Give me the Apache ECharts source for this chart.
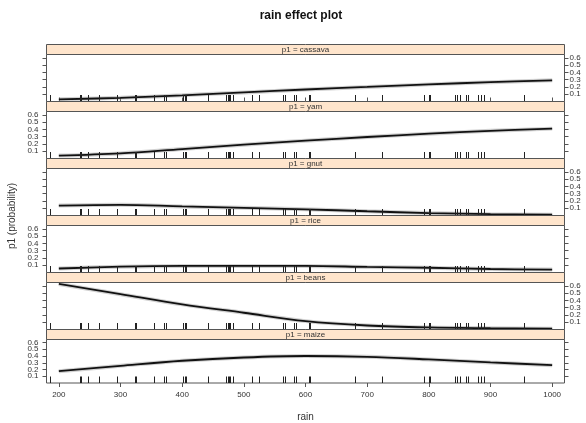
<!DOCTYPE html>
<html>
<head>
<meta charset="utf-8">
<script src="https://cdn.jsdelivr.net/npm/echarts@6/dist/echarts.min.js"></script>
<style>html,body{margin:0;padding:0;background:#fff}#c{width:586px;height:423px}</style>
</head>
<body>
<div id="c"></div>
<script>
const panels = ['cassava', 'yam', 'gnut', 'rice', 'beans', 'maize'];
const rain = [200, 300, 400, 500, 600, 700, 800, 900, 1000];
const cassava = [0.03, 0.05, 0.085, 0.125, 0.165, 0.2, 0.235, 0.265, 0.29];
const yam = [0.04, 0.07, 0.13, 0.19, 0.245, 0.295, 0.34, 0.38, 0.41];
const gnut = [0.136, 0.147, 0.124, 0.105, 0.085, 0.058, 0.033, 0.018, 0.01];
const rice = [0.055, 0.08, 0.09, 0.09, 0.09, 0.077, 0.065, 0.048, 0.04];
const beans = [0.625, 0.485, 0.345, 0.23, 0.115, 0.055, 0.028, 0.018, 0.012];
const maize = [0.175, 0.255, 0.33, 0.378, 0.4, 0.388, 0.35, 0.305, 0.265];
const rugRain = [186, 234, 236, 248, 265, 295, 323, 325, 355, 371, 374, 402, 404, 407, 442,
  471, 474, 476, 478, 482, 513, 525, 564, 566, 581, 584, 606, 608, 680, 724, 792, 800, 802,
  842, 845, 850, 861, 863, 879, 884, 889, 954];
const xTicks = [200, 300, 400, 500, 600, 700, 800, 900, 1000];
const yTicks = [0.1, 0.2, 0.3, 0.4, 0.5, 0.6];
const yLabelsOdd = [0.1, 0.3, 0.5];
const yLabelsEven = [0.2, 0.4, 0.6];

const seriesVals = [cassava, yam, gnut, rice, beans, maize];
const LEFT = 46.5, WIDTH = 518, TOP0 = 44.5, PERIOD = 57, STRIP = 10, PLOT = 47;
const frameColor = '#555';
const textColor = '#333';

const grids = [], xAxes = [], yAxes = [], series = [], graphics = [];
const hiddenAxis = {axisLine: {show: false}, splitLine: {show: false}};
panels.forEach((name, i) => {
  const stripTop = TOP0 + PERIOD * i;
  grids.push({left: LEFT, width: WIDTH, top: stripTop + STRIP, height: PLOT,
    show: true, borderColor: frameColor, borderWidth: 1, backgroundColor: '#fff'});
  const last = i === panels.length - 1;
  xAxes.push(Object.assign({type: 'value', gridIndex: i, min: 180, max: 1020, position: 'bottom',
    axisTick: {show: last, length: 4, customValues: xTicks, lineStyle: {color: frameColor}},
    axisLabel: {show: last, customValues: xTicks, fontSize: 8, color: textColor, margin: 8,
      hideOverlap: false, formatter: v => String(v), fontFamily: 'Liberation Sans'},
    name: last ? 'rain' : '', nameLocation: 'middle', nameGap: 29,
    nameTextStyle: {fontSize: 10, color: textColor, fontFamily: 'Liberation Sans'}}, hiddenAxis));
  const labSide = i % 2 === 1 ? 'left' : 'right';
  const baseIdx = yAxes.length;
  ['left', 'right'].forEach(side => {
    yAxes.push(Object.assign({type: 'value', gridIndex: i, min: 0, max: 0.645, position: side,
      axisTick: {show: true, length: 4, customValues: yTicks, lineStyle: {color: frameColor}},
      axisLabel: {show: false}}, hiddenAxis));
  });
  [yLabelsOdd, yLabelsEven].forEach(vals => {
    yAxes.push(Object.assign({type: 'value', gridIndex: i, min: 0, max: 0.645, position: labSide,
      axisTick: {show: false},
      axisLabel: {show: true, customValues: vals, fontSize: 8, color: textColor,
        margin: labSide === 'left' ? 8 : 5, hideOverlap: false,
        formatter: v => String(v), fontFamily: 'Liberation Sans'}}, hiddenAxis));
  });
  const data = rain.map((x, j) => [x, seriesVals[i][j]]);
  series.push({type: 'line', xAxisIndex: i, yAxisIndex: baseIdx, data: data, showSymbol: false,
    smooth: 0.35, silent: true,
    lineStyle: {color: '#9a9a9a', width: 4, opacity: 0.45}, z: 2});
  series.push({type: 'line', xAxisIndex: i, yAxisIndex: baseIdx, data: data, showSymbol: false,
    smooth: 0.35, silent: true,
    lineStyle: {color: '#111', width: 1.8}, z: 3});
  series.push({type: 'custom', xAxisIndex: i, yAxisIndex: baseIdx, silent: true, z: 4,
    data: rugRain.map(v => [v, 0]),
    renderItem: function (params, api) {
      const p = api.coord([api.value(0), 0]);
      const x = Math.round(p[0]) + 0.5;
      return {type: 'line', shape: {x1: x, y1: p[1], x2: x, y2: p[1] - 6.5},
        style: {stroke: '#222', lineWidth: 1}};
    }});
  graphics.push({type: 'rect', shape: {x: LEFT, y: stripTop, width: WIDTH, height: STRIP},
    style: {fill: '#ffe5cc', stroke: frameColor, lineWidth: 1}, z: 10});
  graphics.push({type: 'text', x: LEFT + WIDTH / 2, y: stripTop + STRIP / 2 + 0.5, z: 11,
    style: {text: 'p1 = ' + name, fontSize: 8, fill: textColor, align: 'center',
      verticalAlign: 'middle', fontFamily: 'Liberation Sans'}});
});
xAxes.push(Object.assign({type: 'value', gridIndex: 0, min: 180, max: 1020, position: 'top',
  axisTick: {show: true, length: 4, customValues: xTicks, lineStyle: {color: frameColor}},
  axisLabel: {show: false, customValues: xTicks}, offset: STRIP}, hiddenAxis));

graphics.push({type: 'text', x: 301, y: 16, style: {text: 'rain effect plot', fontSize: 12,
  fontWeight: 'bold', fill: '#111', align: 'center', verticalAlign: 'middle',
  fontFamily: 'Liberation Sans'}});
graphics.push({type: 'text', x: 12, y: 216, rotation: Math.PI / 2,
  style: {text: 'p1 (probability)', fontSize: 10, fill: textColor, align: 'center',
    verticalAlign: 'middle', fontFamily: 'Liberation Sans'}});

const chart = echarts.init(document.getElementById('c'), null, {renderer: 'canvas'});
chart.setOption({animation: false, grid: grids, xAxis: xAxes, yAxis: yAxes,
  series: series, graphic: graphics});
</script>
</body>
</html>
